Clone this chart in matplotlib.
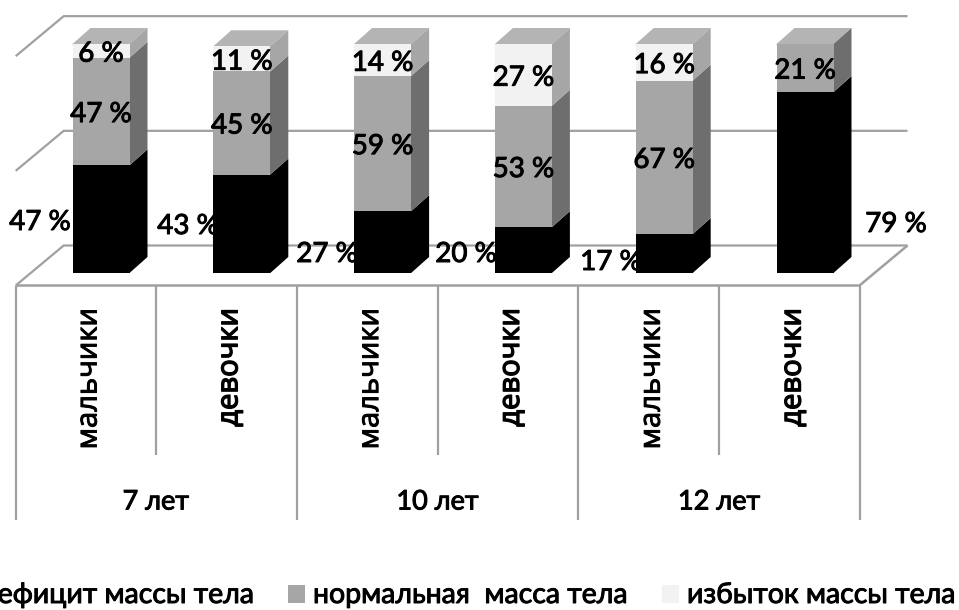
import matplotlib.pyplot as plt
import matplotlib.patheffects as pe
from matplotlib.patches import Polygon, Rectangle

plt.rcParams['font.family'] = ['Lato', 'Noto Sans', 'DejaVu Sans']

# Data
groups = ['7 лет', '10 лет', '12 лет']
sexes = ['мальчики', 'девочки', 'мальчики', 'девочки', 'мальчики', 'девочки']
deficit = [47, 43, 27, 20, 17, 79]
normal = [47, 45, 59, 53, 67, 21]
excess = [6, 11, 14, 27, 16, 0]
legend_names = ['дефицит массы тела', 'нормальная  масса тела', 'избыток массы тела']

# Colours for front and side faces
front = ['#000000', '#A6A6A6', '#F2F2F2']
side = ['#000000', '#6E6E6E', '#A6A6A6']
top_color = '#B4B4B4'
line_color = '#A0A0A0'

# Scale: pixels per category and per percent
W, H = 959, 610
x0, step = 101.0, 140.8
y0, unit = 273.0, 2.29
bar_w = 57 / step
dx, dy = 18 / step, 16 / unit  # depth of a bar
wx, wy = 48 / step, 40 / unit  # depth of the floor and walls

fig = plt.figure(figsize=(W / 100, H / 100), dpi=100)
ax = fig.add_axes([0, 0, 1, 1])
ax.set_xlim(-x0 / step, (W - x0) / step)
ax.set_ylim((y0 - H) / unit, y0 / unit)
ax.axis('off')

def px(x, y):
    return (x - x0) / step, (y0 - y) / unit

# Floor edges
floor = -12.5 / unit
left = px(15.7, 0)[0]
right = px(859.5, 0)[0]

# Wall gridlines with their slanted stubs
for v in [0, 50, 100]:
    yb = floor + wy + v * 1.0015
    yf = floor + v * 1.0015
    ax.plot([left, left + wx, right + wx], [yf, yb, yb], color=line_color, lw=1.6,
            solid_capstyle='butt', solid_joinstyle='miter', zorder=1)
ax.plot([left, right, right + wx], [floor, floor, floor + wy], color=line_color, lw=1.8,
        solid_capstyle='butt', zorder=1)

# Category table under the floor
inner_bottom = px(0, 455)[1]
outer_bottom = px(0, 520)[1]
for i in range(7):
    x = left + i * (right - left) / 6
    ax.plot([x, x], [floor, outer_bottom if i % 2 == 0 else inner_bottom],
            color=line_color, lw=1.6, solid_capstyle='butt', zorder=1)

# Stacked bars with side and top faces, sides tucked under the front to avoid seams
seam = 1 / step
for i in range(len(sexes)):
    bottom = 0
    xl, xr = i - bar_w / 2, i + bar_w / 2
    for vals, fc, sc in zip([deficit, normal, excess], front, side):
        v = vals[i]
        if v == 0:
            continue
        ax.bar(i, v, bar_w, bottom=bottom, color=fc, zorder=3)
        ax.add_patch(Polygon([(xr - seam, bottom), (xr, bottom), (xr + dx, bottom + dy),
                              (xr + dx, bottom + v + dy), (xr, bottom + v), (xr - seam, bottom + v)],
                             closed=True, fc=sc, ec='none', zorder=2.9))
        bottom += v
    ax.add_patch(Polygon([(xl, bottom - 0.4), (xl, bottom), (xl + dx, bottom + dy),
                          (xr + dx, bottom + dy), (xr, bottom), (xr, bottom - 0.4)],
                         closed=True, fc=top_color, ec='none', zorder=2.8))

# Heavier strokes for all chart text
thick = [pe.withStroke(linewidth=0.7, foreground='black')]
thicker = [pe.withStroke(linewidth=1.0, foreground='black')]

# Value labels
label_font = dict(fontsize=20, color='black', ha='center', va='center', zorder=5,
                  path_effects=thick)
for i in range(len(sexes)):
    ax.text(i, deficit[i] + normal[i] / 2 - 1.1, f'{normal[i]} %', **label_font)
    if excess[i]:
        ax.text(i, deficit[i] + normal[i] + excess[i] / 2 - 1.2, f'{excess[i]} %', **label_font)

deficit_label_px = [(40, 222), (188, 226), (327, 254), (466, 254), (611, 262), (896, 224)]
for v, (x, y) in zip(deficit, deficit_label_px):
    lx, ly = px(x, y)
    ax.text(lx, ly, f'{v} %', **label_font)

# Category labels
for i, name in enumerate(sexes):
    ax.text(i - 0.085, px(0, 308)[1], name, rotation=90, ha='center', va='top', fontsize=21,
            family=['Open Sans', 'DejaVu Sans'], color='black',
            path_effects=thicker if name == 'девочки' else thick)
for i, name in enumerate(groups):
    ax.text(0.39 + 2 * i, px(0, 502)[1], name, ha='center', va='center', fontsize=19.5,
            color='black', path_effects=thick)

# Legend row, the first entry runs off the left edge
legend_y = px(0, 595)[1]
legend_font = dict(fontsize=20.5, color='black', va='center', path_effects=thick)
ax.text(px(254, 0)[0], legend_y, legend_names[0], ha='right', **legend_font)
for name, color, sx, tx in zip(legend_names[1:], front[1:], [288, 662], [313, 687]):
    xa, ya = px(sx, 603)
    ax.add_patch(Rectangle((xa, ya), 17 / step, 18 / unit, fc=color, ec='none'))
    ax.text(px(tx, 0)[0], legend_y, name, ha='left', **legend_font)

fig.savefig('out.png', dpi=100)
